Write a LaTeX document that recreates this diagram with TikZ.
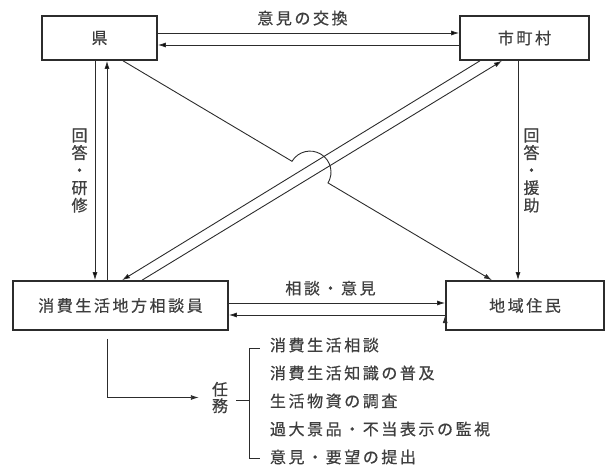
\documentclass[tikz,border=0pt]{standalone}
\usepackage{fontspec}
\usepackage{xcolor}
\usetikzlibrary{arrows.meta,positioning,calc}
\newfontfamily\jp[LetterSpace=16, FakeBold=0.6]{Noto Sans CJK JP}
\newcommand{\jpfont}{\jp\fontsize{16pt}{17.5pt}\selectfont}
\definecolor{ink}{HTML}{2C2C2C}
\definecolor{inkgray}{HTML}{3E3E3E}
\tikzset{
	box/.style={draw=ink, line width=1.6pt, minimum height=44pt, inner sep=0pt, font=\jpfont, text=inkgray},
	lowbox/.style={box, minimum height=49pt},
	arr/.style={draw=ink, line width=0.9pt, -{Latex[length=8pt,width=5pt]}},
	lbl/.style={font=\jpfont, text=inkgray, inner sep=0pt, align=center},
	task/.style={lbl, text width=240pt, align=left},
	line/.style={draw=ink, line width=0.9pt}
}

\begin{document}
\begin{tikzpicture}[x=1pt, y=1pt, node distance=267.5pt]
			\useasboundingbox (0,0) rectangle (607,469);

			\node[box, minimum width=115pt] (ken) at (99.5,431) {県};
			\node[box, minimum width=129pt] (shichoson)[right of = ken, xshift=157.5] {市町村};
			\node[lowbox, minimum width=215pt] (soudanin)[below of = ken, xshift=21] {消費生活地方相談員};
			\node[lowbox, minimum width=158pt] (jumin)[below of = shichoson, xshift=0.5] {地域住民};

			\path[arr]
				([yshift=5pt]ken.east) edge node[lbl, above=7pt, pos=0.48] {意見の交換} ([yshift=5pt]shichoson.west)
				([yshift=-7pt]shichoson.west) edge ([yshift=-7pt]ken.east)

				([xshift=-4.5pt]ken.south) edge node[lbl, left=7pt] {回\\答\\・\\研\\修} ([xshift=-4.5pt]ken.south |- soudanin.north)
				([xshift=7.5pt]ken.south |- soudanin.north) edge ([xshift=7.5pt]ken.south)

				([xshift=-6.5pt]shichoson.south) edge node[lbl, right=5pt] {回\\答\\・\\援\\助} ([xshift=-6.5pt]shichoson.south |- jumin.north)

				([xshift=-44.5pt]shichoson.south) edge ([xshift=1.5pt]soudanin.north)
				([xshift=21.5pt]soudanin.north) edge ([xshift=-22.5pt]shichoson.south)

				([yshift=2.5pt]soudanin.east) edge node[lbl, above=7pt, pos=0.47] {相談・意見} ([yshift=2.5pt]jumin.west)
				([yshift=-9.5pt]jumin.west) edge ([yshift=-9.5pt]soudanin.east)
			;

			% line from ken to jumin hops over the double line
			\coordinate (diagA) at ([xshift=23.5pt]ken.south);
			\coordinate (diagB) at ([xshift=-33pt]jumin.north);
			\draw[arr] (diagA) -- ($(diagA)!0.458!(diagB)$) arc[start angle=149, end angle=-31, radius=21pt] -- (diagB);

			\node[lbl] (ninmu) at (220,71.5) {任\\[-1pt]務};
			\draw[arr, shorten <=8pt, shorten >=13pt] ([xshift=-13.5pt]soudanin.south) |- (ninmu.west);

			\node[task] (task1) at (390,124) {消費生活相談};
			\node[task] (task2)[below of = task1, node distance=28pt] {消費生活知識の普及};
			\node[task] (task3)[below of = task2, node distance=28pt] {生活物資の調査};
			\node[task] (task4)[below of = task3, node distance=28pt] {過大景品・不当表示の監視};
			\node[task] (task5)[below of = task4, node distance=28pt] {意見・要望の提出};

			\draw[line] ([xshift=-10pt,yshift=-3pt]task1.west) -- ++(-10,0) |- ([xshift=-10pt,yshift=-1pt]task5.west);
			\draw[line] ([xshift=8pt,yshift=-2.5pt]ninmu.east) -- ++(13,0);
\end{tikzpicture}
\end{document}
